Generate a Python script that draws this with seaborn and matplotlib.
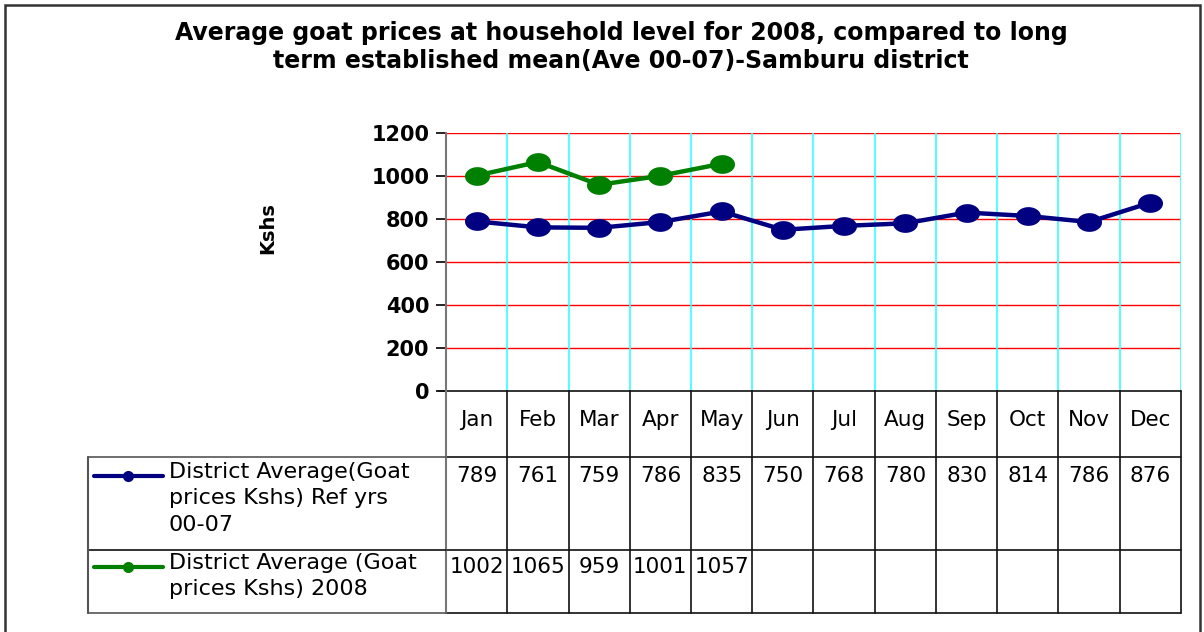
import matplotlib
matplotlib.use("Agg")
import matplotlib.pyplot as plt
import matplotlib.transforms as mtransforms
from matplotlib.patches import Rectangle
from matplotlib.path import Path
import numpy as np
import seaborn as sns
import pandas as pd

months = ["Jan", "Feb", "Mar", "Apr", "May", "Jun", "Jul", "Aug", "Sep", "Oct", "Nov", "Dec"]
ref_avg = [789, 761, 759, 786, 835, 750, 768, 780, 830, 814, 786, 876]
avg_2008 = [1002, 1065, 959, 1001, 1057]
ref_label = "District Average(Goat\nprices Kshs) Ref yrs\n00-07"
label_2008 = "District Average (Goat\nprices Kshs) 2008"
title = ("Average goat prices at household level for 2008, compared to long\n"
         "term established mean(Ave 00-07)-Samburu district")

sns.set_style("white")
plt.rcParams["font.family"] = ["DejaVu Sans"]
plt.rcParams["text.color"] = "black"
plt.rcParams["ytick.color"] = "black"
plt.rcParams["ytick.labelcolor"] = "black"

W, H = 1204, 632
fig = plt.figure(figsize=(W / 100, H / 100), dpi=100)

def fx(px):
    return px / W

def fy(py):
    return 1 - py / H

# slightly flattened round marker, as in the original
th = np.linspace(0, 2 * np.pi, 60)
oval = Path(np.column_stack([np.cos(th), 0.75 * np.sin(th)]), closed=True)

ax = fig.add_axes([fx(446), fy(391), fx(1181) - fx(446), fy(133) - fy(391)])

df_ref = pd.DataFrame({"x": range(len(ref_avg)), "y": ref_avg})
df_08 = pd.DataFrame({"x": range(len(avg_2008)), "y": avg_2008})
navy, green = "#000080", "#008000"
sns.lineplot(data=df_ref, x="x", y="y", ax=ax, color=navy, lw=3.2, marker=oval,
             markersize=18, markeredgewidth=0, sort=False, zorder=5)
sns.lineplot(data=df_08, x="x", y="y", ax=ax, color=green, lw=3.2, marker=oval,
             markersize=18, markeredgewidth=0, sort=False, zorder=5)

ax.set_xlim(-0.5, len(months) - 0.5)
ax.set_ylim(0, 1200)
ax.set_yticks(range(0, 1201, 200))
ax.set_xticks([])
ax.set_xlabel("")
ax.set_ylabel("")
for v in range(200, 1201, 200):
    ax.axhline(v, color="#ff0000", lw=1.0, zorder=1)
for i in range(len(months)):
    ax.axvline(i + 0.5, color="#33ffff", lw=1.2, zorder=1)
for s in ["top", "right", "bottom"]:
    ax.spines[s].set_visible(False)
ax.spines["left"].set_color("#777777")
ax.spines["left"].set_linewidth(1.5)
ax.tick_params(axis="y", left=True, length=7, width=1.2, color="black",
               labelcolor="black", labelsize=15, pad=5)
for t in ax.get_yticklabels():
    t.set_fontweight("bold")

fig.text(fx(268), fy(228), "Kshs", rotation=90, ha="center", va="center",
         fontsize=14, fontweight="bold")
fig.text(fx(621), fy(47), title, ha="center", va="center", fontsize=17,
         fontweight="bold", linespacing=1.25)

# data table below the plot
trans = mtransforms.blended_transform_factory(ax.transData, fig.transFigure)
y_top, y_head, y_r1, y_r2 = 391, 457, 550, 613
line_kw = dict(color="#111111", lw=1.2, clip_on=False)
ax.plot([-0.62, 11.5], [fy(y_top)] * 2, transform=trans, **line_kw)
ax.plot([-0.5, 11.5], [fy(y_head)] * 2, transform=trans, **line_kw)
fig.add_artist(plt.Line2D([fx(88), fx(446)], [fy(y_head)] * 2, color="#555555", lw=1.2))
ax.plot([-0.5, 11.5], [fy(y_r1)] * 2, transform=trans, **line_kw)
fig.add_artist(plt.Line2D([fx(88), fx(446)], [fy(y_r1)] * 2, color="#111111", lw=1.2))
ax.plot([-0.5, 11.5], [fy(y_r2)] * 2, transform=trans, **line_kw)
fig.add_artist(plt.Line2D([fx(88), fx(446)], [fy(y_r2)] * 2, color="#555555", lw=1.2))
fig.add_artist(plt.Line2D([fx(88), fx(88)], [fy(y_head), fy(y_r2)], color="#555555", lw=1.5))
ax.plot([-0.5, -0.5], [fy(y_top), fy(y_r2)], transform=trans, color="#777777", lw=1.5, clip_on=False)
for i in range(len(months)):
    ax.plot([i + 0.5] * 2, [fy(y_top), fy(y_r2)], transform=trans, **line_kw)

for i, m in enumerate(months):
    ax.text(i, fy(420), m, transform=trans, ha="center", va="center", fontsize=15.5)
for i, v in enumerate(ref_avg):
    ax.text(i, fy(476), str(v), transform=trans, ha="center", va="center", fontsize=15.5)
for i, v in enumerate(avg_2008):
    ax.text(i, fy(567), str(v), transform=trans, ha="center", va="center", fontsize=15.5)

# legend keys in the table
for (yk, col, lab) in [(476, navy, ref_label), (567, green, label_2008)]:
    fig.add_artist(plt.Line2D([fx(94), fx(163)], [fy(yk)] * 2, color=col, lw=3))
    fig.add_artist(plt.Line2D([fx(128)], [fy(yk)], color=col, marker="o",
                              markersize=8, markeredgewidth=0))
    fig.text(fx(169), fy(yk - 14), lab, ha="left", va="top", fontsize=16, linespacing=1.4)

fig.add_artist(Rectangle((fx(5), -0.05), fx(1200) - fx(5), fy(5) + 0.05,
                         transform=fig.transFigure, fill=False, ec="#333333", lw=1.8))

fig.savefig("out.png", dpi=100)
